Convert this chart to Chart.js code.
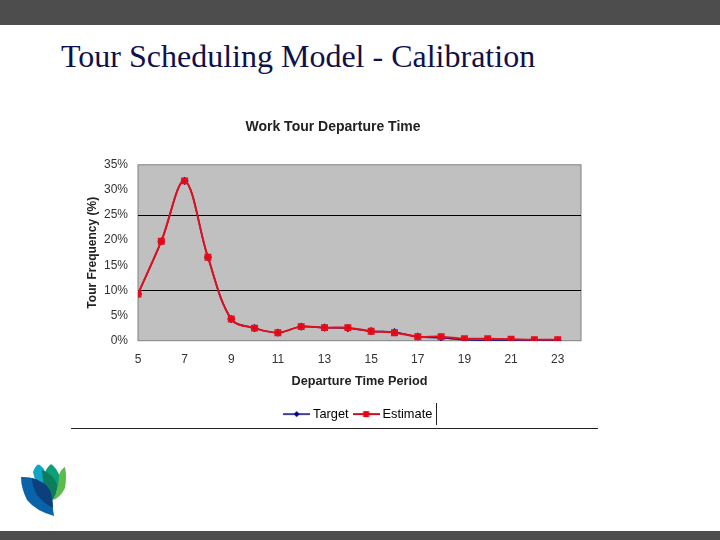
<!DOCTYPE html>
<html><head><meta charset="utf-8">
<style>
html,body{margin:0;padding:0;background:#fff;width:720px;height:540px;overflow:hidden}
#top{position:absolute;left:0;top:0;width:720px;height:25px;background:#4d4d4d}
#bot{position:absolute;left:0;top:531px;width:720px;height:9px;background:#4d4d4d}
#head{position:absolute;left:61px;top:38px;font:32px "Liberation Serif",serif;color:#10104a;white-space:nowrap}
#rule{position:absolute;left:71px;top:428px;width:527px;height:1px;background:#222}
#tick{position:absolute;left:436px;top:403px;width:1px;height:22px;background:#222}
#c{position:absolute;left:0;top:0}
#logo{position:absolute;left:0;top:440px}
</style></head><body>
<div id="top"></div><div id="bot"></div>
<div id="head">Tour Scheduling Model - Calibration</div>
<canvas id="c" width="668" height="540" style="width:668px;height:540px"></canvas>
<div id="rule"></div><div id="tick"></div>
<svg id="logo" width="90" height="90" viewBox="0 440 90 90">
<path d="M33 472 Q37 461 41 466 Q47 470 46 484 L44 490 Q35 484 33 472Z" fill="#12a5c4"/>
<path d="M51 464 Q57 468 60 477 Q60 490 50 498 Q43 488 44 475 Q46 468 51 464Z" fill="#0e9f78"/>
<path d="M65 467 Q67 476 65 488 Q60 498 53 500 Q59 488 59 475 Q61 469 65 467Z" fill="#5dbb4e"/>
<path d="M42 470 Q53 474 57 484 Q58 494 51 502 Q43 492 42 470Z" fill="#0c7d5c"/>
<path d="M21 477 Q36 476 46 486 Q52 498 54 516 Q36 511 27 500 Q21 488 21 477Z" fill="#0a63a8"/>
<path d="M32 478 Q44 481 50 490 Q53 498 53 508 Q42 502 37 495 Q32 486 32 478Z" fill="#0b3f7d"/>
</svg>
<script src="https://cdn.jsdelivr.net/npm/chart.js@4"></script>
<script>
const periods=[5,6,7,8,9,10,11,12,13,14,15,16,17,18,19,20,21,22,23];
const estimate=[9.3,19.8,31.8,16.6,4.3,2.5,1.6,2.8,2.6,2.6,1.9,1.6,0.8,0.8,0.4,0.4,0.3,0.2,0.2];
const target=[9.3,19.8,31.8,16.6,4.3,2.5,1.6,2.8,2.6,2.5,1.9,1.7,0.8,0.6,0.2,0.1,0.1,0.1,0.1];
const yTicks=[0,5,10,15,20,25,30,35];
const heavyLines=[10,25];
const chartTitle='Work Tour Departure Time', xTitle='Departure Time Period', yTitle='Tour Frequency (%)';

function sample(color,style){
  const k=document.createElement('canvas');k.width=27;k.height=10;
  const g=k.getContext('2d');
  g.strokeStyle=color;g.lineWidth=style==='rect'?2:1.5;
  g.beginPath();g.moveTo(0,5);g.lineTo(27,5);g.stroke();
  g.fillStyle=color;
  if(style==='rect'){g.fillStyle='#ee0010';g.fillRect(10.5,2,6,6);}
  else{g.beginPath();g.moveTo(13.5,2);g.lineTo(16.5,5);g.lineTo(13.5,8);g.lineTo(10.5,5);g.closePath();g.fill();}
  return k;
}
const plotBg={id:'plotBg',beforeDraw(ch){const a=ch.chartArea,g=ch.ctx;
  g.save();g.fillStyle='#c0c0c0';g.fillRect(a.left,a.top,a.width,a.height);
  g.strokeStyle='#808080';g.lineWidth=1;g.strokeRect(a.left,a.top,a.width,a.height);g.restore();}};

new Chart(document.getElementById('c'),{
  type:'line',
  data:{datasets:[
    {label:'Target',order:2,data:periods.map((p,i)=>({x:p,y:target[i]})),borderColor:'#000080',backgroundColor:'#000080',pointStyle:'rectRot',pointRadius:3,borderWidth:1.5,tension:0.35},
    {label:'Estimate',order:1,data:periods.map((p,i)=>({x:p,y:estimate[i]})),borderColor:'#e0101c',backgroundColor:'#ee0010',pointStyle:'rect',pointRadius:3.5,borderWidth:2,tension:0.35}
  ]},
  options:{
    responsive:false,animation:false,
    layout:{padding:{left:85,right:87,top:119,bottom:109.5}},
    plugins:{
      title:{display:true,text:chartTitle,color:'#222',font:{family:'Liberation Sans',size:14,weight:'bold'},padding:{top:0,bottom:29}},
      legend:{position:'bottom',fullSize:false,labels:{
        usePointStyle:true,pointStyleWidth:20,boxHeight:10,color:'#333',font:{family:'Liberation Sans',size:12.8},padding:7.5,
        generateLabels:()=>[
          {text:'Target',pointStyle:sample('#000080','rot'),datasetIndex:0,fillStyle:'#000080',strokeStyle:'#000080',lineWidth:0},
          {text:'Estimate',pointStyle:sample('#c81020','rect'),datasetIndex:1,fillStyle:'#e0101c',strokeStyle:'#e0101c',lineWidth:0}
        ]}},
      tooltip:{enabled:false}
    },
    scales:{
      x:{type:'linear',min:5,max:24,
        afterBuildTicks(ax){ax.ticks=periods.filter(p=>p%2===1).map(v=>({value:v}));},
        ticks:{autoSkip:false,maxRotation:0,color:'#333',font:{family:'Liberation Sans',size:12},padding:4},
        grid:{display:false},border:{display:false},
        title:{display:true,text:xTitle,color:'#222',font:{family:'Liberation Sans',size:12.7,weight:'bold'},padding:{top:8,bottom:11}},
        afterFit(ax){ax.height=59.5;}
      },
      y:{min:0,max:35,
        afterBuildTicks(ax){ax.ticks=yTicks.map(v=>({value:v}));},
        ticks:{callback:v=>v+'%',color:'#333',font:{family:'Liberation Sans',size:12},padding:10},
        grid:{drawTicks:false,lineWidth:1,color:c=>heavyLines.includes(c.tick&&c.tick.value)?'#000':'transparent'},
        border:{display:false},
        title:{display:true,text:yTitle,color:'#222',font:{family:'Liberation Sans',size:12,weight:'bold'},padding:{top:0,bottom:4}},
        afterFit(ax){ax.width=53;}
      }
    }
  },
  plugins:[plotBg]
});
</script>
</body></html>
